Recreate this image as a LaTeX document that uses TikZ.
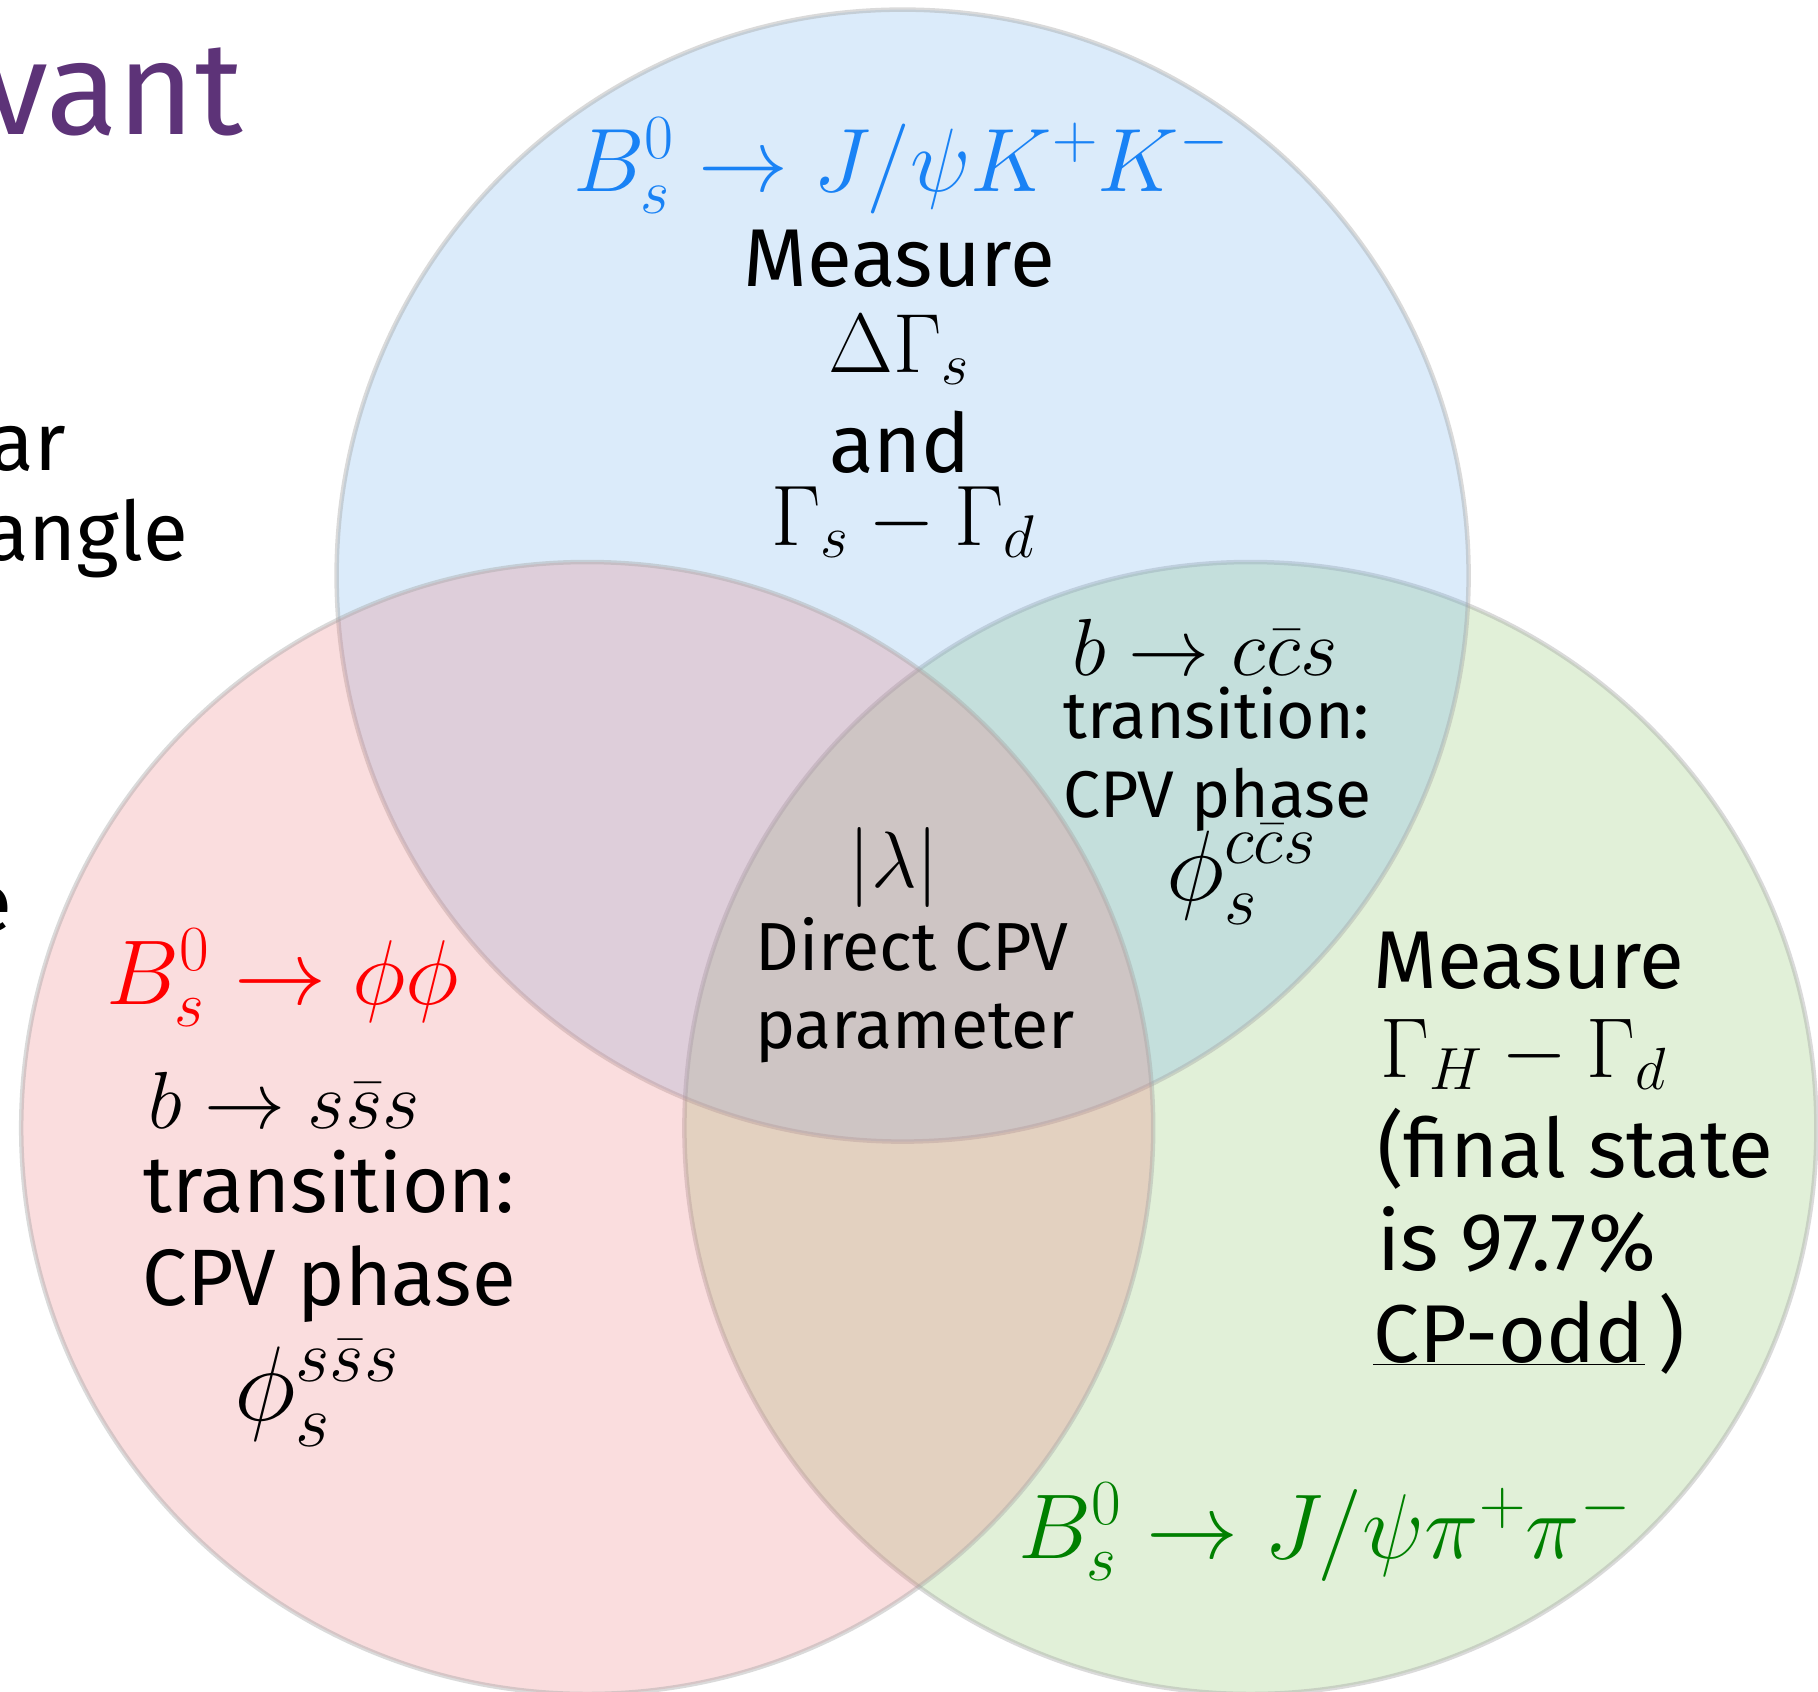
\RequirePackage{fix-cm}
\documentclass[tikz,border=0pt]{standalone}
\usepackage[no-math]{fontspec}
\newfontfamily\slidesans{Fira Sans}
\definecolor{vblue}{RGB}{111,175,235}
\definecolor{vred}{RGB}{235,119,123}
\definecolor{vgreen}{RGB}{135,195,99}
\definecolor{fblue}{RGB}{25,130,245}
\definecolor{fred}{RGB}{255,0,0}
\definecolor{fgreen}{RGB}{0,128,0}
\definecolor{slidepurple}{RGB}{93,51,120}
\begin{document}
\begin{tikzpicture}[x=1pt,y=-1pt,
  venn/.style={line width=4.5pt, draw=black!35, draw opacity=0.42, fill opacity=0.25},
  txt/.style={inner sep=0pt, font=\slidesans\fontsize{82}{98}\selectfont},
  redtxt/.style={inner sep=0pt, font=\slidesans\fontsize{80}{96}\selectfont},
  smalltxt/.style={inner sep=0pt, font=\slidesans\fontsize{66}{80}\selectfont},
  ctxt/.style={inner sep=0pt, font=\slidesans\fontsize{68}{80}\selectfont},
  mth/.style={inner sep=0pt, font=\fontsize{84}{100}\selectfont},
  bigmth/.style={inner sep=0pt, font=\fontsize{92}{110}\selectfont}]
\useasboundingbox (0,0) rectangle (1818,1692);
% circles
\path[venn, fill=vgreen] (1250.4,1128) circle[radius=566];
\path[venn, fill=vblue] (902.6,575.6) circle[radius=566];
\path[venn, fill=vred] (587.2,1128) circle[radius=566];
% cut-off slide text
\node[txt, anchor=base east, text=slidepurple, font=\slidesans\fontsize{132}{150}\selectfont] (vant) at (243,134) {vant};
\node[txt, anchor=base east] (ar) at (66,470) {ar};
\node[txt, anchor=base east] (angle) at (188,560) {angle};
\node[txt, anchor=base east] (e) at (12,931) {e};
% blue circle
\node[bigmth, anchor=base, text=fblue, font=\fontsize{90}{108}\selectfont] (bf) at (901,191) {$B_s^0\to J/\psi K^+K^-$};
\node[txt, anchor=base] (bm) at (899,286) {Measure};
\node[mth, anchor=base] (bdg) at (899,372) {$\Delta\Gamma_s$};
\node[txt, anchor=base] (band) at (900,472) {and};
\node[mth, anchor=base, font=\fontsize{86}{100}\selectfont] (bgg) at (903,545) {$\Gamma_s-\Gamma_d$};
% red circle
\node[bigmth, anchor=base west, text=fred] (rf) at (106,1004) {$B_s^0\to\phi\phi$};
\node[mth, anchor=base west, font=\fontsize{81}{96}\selectfont] (rb) at (148,1128) {$b\to s\bar{s}s$};
\node[redtxt, anchor=base west] (rt) at (143,1212) {transition:};
\node[redtxt, anchor=base west] (rc) at (142,1305) {CPV phase};
\node[mth, anchor=base west, font=\fontsize{106}{120}\selectfont] (rp) at (234,1420) {$\phi_s^{s\bar{s}s}$};
% centre
\node[mth, anchor=base, font=\fontsize{80}{96}\selectfont] (cl) at (894,887) {$|\lambda|$};
\node[ctxt, anchor=base west] (cd) at (755,970) {Direct CPV};
\node[ctxt, anchor=base west] (cp) at (755,1048) {parameter};
% blue-green overlap
\node[mth, anchor=base west, font=\fontsize{81}{96}\selectfont] (tb) at (1072,675) {$b\to c\bar{c}s$};
\node[smalltxt, anchor=base west] (tt) at (1063,738) {transition:};
\node[smalltxt, anchor=base west] (tc) at (1063,817) {CPV phase};
\node[mth, anchor=base west, font=\fontsize{100}{120}\selectfont] (tp) at (1166,900) {$\phi_s^{c\bar{c}s}$};
% green circle
\node[txt, anchor=base west] (gm) at (1373,988) {Measure};
\node[mth, anchor=base west, font=\fontsize{85}{100}\selectfont] (gg) at (1380,1077) {$\Gamma_H-\Gamma_d$};
\node[txt, anchor=base west] (gf) at (1377,1177) {(final state};
\node[txt, anchor=base west] (gi) at (1377,1270) {is 97.7\%};
\node[txt, anchor=base west] (gc) at (1373,1362) {\underline{CP-odd}\,)};
\node[bigmth, anchor=base west, text=fgreen] (gfm) at (1018,1558) {$B_s^0\to J/\psi\pi^+\pi^-$};
\end{tikzpicture}
\end{document}
